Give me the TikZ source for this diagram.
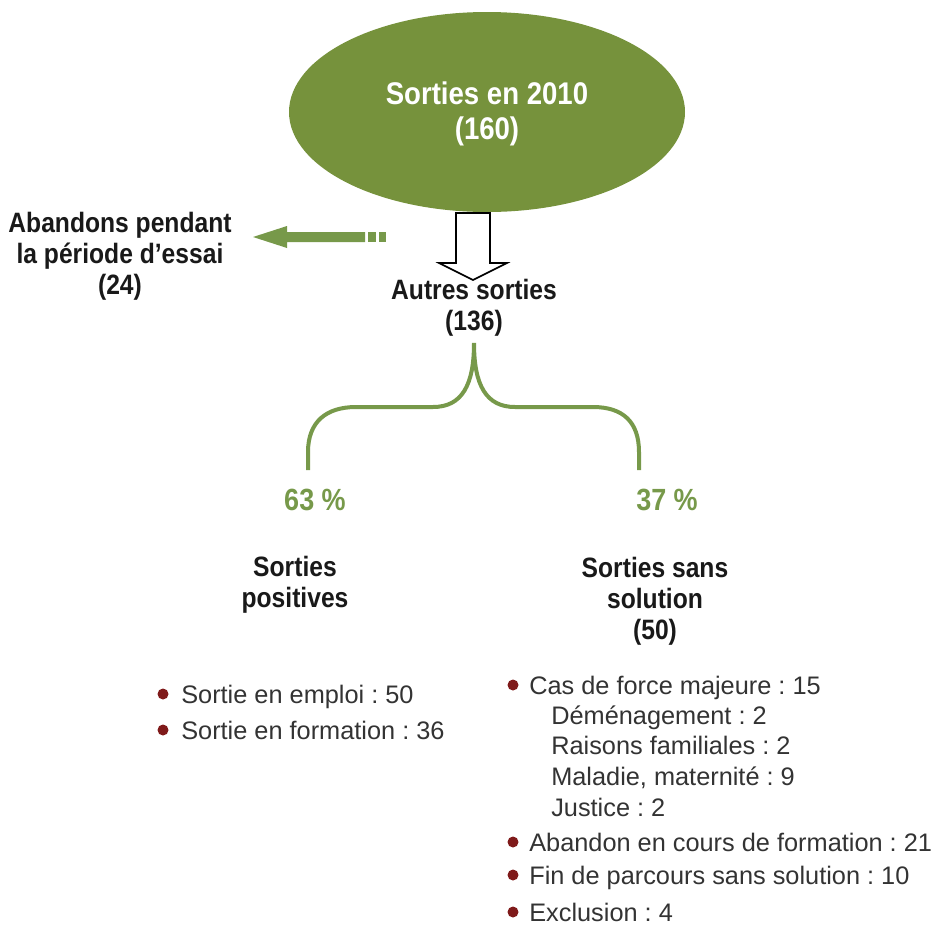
\documentclass[tikz,border=0pt]{standalone}
\usepackage{fontspec}
\setmainfont{Liberation Sans}
\newfontfamily\condfont[FakeStretch=0.88]{Liberation Sans}
\usetikzlibrary{positioning}
\definecolor{olive}{HTML}{76923C}
\definecolor{leaf}{HTML}{77994A}
\definecolor{wine}{HTML}{7F1A1A}
\definecolor{ink}{HTML}{333333}
\tikzset{
  title/.style={align=center, inner sep=0pt, text=black!90,
    font=\condfont\bfseries\fontsize{21}{23.25}\selectfont},
  percent/.style={inner sep=0pt, text=leaf,
    font=\condfont\bfseries\fontsize{23}{24}\selectfont},
  item/.style={anchor=base west, inner sep=0pt, text=ink,
    font=\frenchspacing\fontsize{19}{20}\selectfont},
  dot/.style={fill=wine},
}
\begin{document}
\begin{tikzpicture}[x=0.75pt, y=-0.75pt]
  \useasboundingbox (0,0) rectangle (943,929);
  % top ellipse
  \fill[olive] (487,112) ellipse (198 and 100);
  \node[title, text=white, font=\condfont\bfseries\fontsize{23.5}{26.25}\selectfont]
    (total) at (487,114) {Sorties en 2010\\(160)};
  \node[title] (abandon) at (120,256) {Abandons pendant\\la période d’essai\\(24)};
  \node[title] (autres) at (474,308) {Autres sorties\\(136)};
  % arrows
  \fill[leaf] (253,237) -- (287,226) -- (287,232) -- (365,232)
    -- (365,242) -- (287,242) -- (287,248) -- cycle;
  \fill[leaf] (368,232) rectangle (376,242);
  \fill[leaf] (379,232) rectangle (386,242);
  \draw[line width=1.2pt, fill=white] (456,213) -- (490,213) -- (490,263)
    -- (507,263) -- (473,280) -- (439,263) -- (456,263) -- cycle;
  % brace
  \coordinate (top) at (474,343);
  \coordinate (left) at (308,470);
  \coordinate (right) at (639,470);
  \draw[leaf, line width=3pt] (left) -- (308,452)
    .. controls (308,422) and (326,407) .. (356,407) -- (433,407)
    .. controls (462,407) and (474,385) .. (top)
    .. controls (474,385) and (486,407) .. (515,407) -- (593,407)
    .. controls (623,407) and (639,422) .. (639,452) -- (right);
  \node[percent] (p63) at (315,500) {63 \%};
  \node[percent] (p37) at (667,500) {37 \%};
  \node[title] (positive) at (295,585) {Sorties\\positives};
  \node[title] (sans) at (655,601) {Sorties sans\\solution\\(50)};
  % lists
  \fill[dot] (163,694) circle (5.5);
  \node[item] (l1) at (181,703) {Sortie en emploi : 50};
  \fill[dot] (163,730) circle (5.5);
  \node[item] (l2) at (181,739) {Sortie en formation : 36};
  \fill[dot] (513,685) circle (5.5);
  \node[item] (r1) at (529,694) {Cas de force majeure : 15};
  \node[item] (r2) at (551,724) {Déménagement : 2};
  \node[item] (r3) at (551,754) {Raisons familiales : 2};
  \node[item] (r4) at (551,785) {Maladie, maternité : 9};
  \node[item] (r5) at (551,816) {Justice : 2};
  \fill[dot] (513,842) circle (5.5);
  \node[item] (r6) at (529,851) {Abandon en cours de formation : 21};
  \fill[dot] (513,875) circle (5.5);
  \node[item] (r7) at (529,884) {Fin de parcours sans solution : 10};
  \fill[dot] (513,912) circle (5.5);
  \node[item] (r8) at (529,921) {Exclusion : 4};
\end{tikzpicture}
\end{document}
